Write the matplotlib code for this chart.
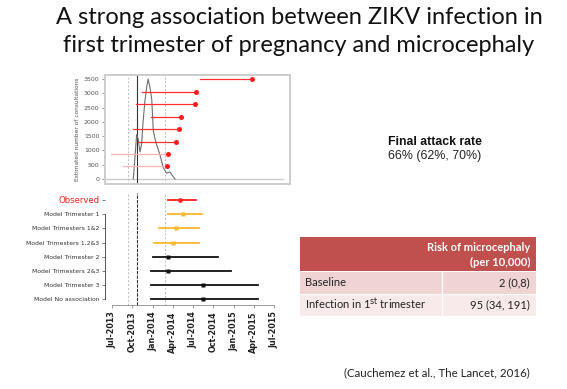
import matplotlib
matplotlib.use("Agg")
import matplotlib.pyplot as plt
import matplotlib.dates as mdates
from matplotlib.patches import Rectangle
import pandas as pd

W, H = 567, 389

# epidemic curve (estimated number of consultations)
curve_dates = ["2013-10-05", "2013-10-12", "2013-10-20", "2013-10-27",
               "2013-11-04", "2013-11-11", "2013-11-18", "2013-11-26", "2013-12-04",
               "2013-12-11", "2013-12-19", "2013-12-27", "2014-01-03", "2014-01-11",
               "2014-01-18", "2014-02-02", "2014-02-17", "2014-03-04", "2014-03-19",
               "2014-04-03", "2014-04-11"]
curve_vals = [0, 700, 1550, 1400, 950, 1200, 2000, 2700, 3200, 3500, 3200, 2800,
              1700, 1400, 1200, 850, 400, 200, 250, 80, 0]
baseline_span = ["2013-05-31", "2015-08-09"]

# pregnancy windows in the top panel
win_start = ["2014-08-01", "2013-11-11", "2013-10-16", "2013-12-23",
             "2013-10-02", "2013-10-27", "2013-06-26", "2013-08-21"]
win_end = ["2015-03-25", "2014-07-14", "2014-07-10", "2014-05-08",
           "2014-04-30", "2014-04-15", "2014-03-12", "2014-03-04"]
win_y = [3500, 3060, 2625, 2170, 1760, 1310, 875, 455]
win_light = [False, False, False, False, False, False, True, True]

# model comparison rows
row_labels = ["Observed", "Model Trimester 1", "Model Trimesters 1&2",
              "Model Trimesters 1,2&3", "Model Trimester 2", "Model Trimesters 2&3",
              "Model Trimester 3", "Model No association"]
row_lo = ["2014-03-12", "2014-03-12", "2014-01-29", "2014-01-07",
          "2013-12-31", "2013-12-23", "2013-12-23", "2013-12-23"]
row_mid = ["2014-05-03", "2014-05-18", "2014-04-14", "2014-04-03",
           "2014-03-12", "2014-03-12", "2014-08-16", "2014-08-16"]
row_hi = ["2014-07-14", "2014-08-11", "2014-07-29", "2014-07-29",
          "2014-10-23", "2014-12-18", "2015-04-21", "2015-04-21"]
row_colors = ["#ff2020", "#f9b82e", "#f9b82e", "#f9b82e",
              "#111111", "#111111", "#111111", "#111111"]

vline_grey = ["2013-09-13", "2014-02-25"]
vline_dark = "2013-10-23"

tick_dates = pd.date_range("2013-07-01", "2015-07-01", freq="3MS")

# page geometry (pixels)
x0 = pd.Timestamp("2013-07-01") + pd.Timedelta(days=(105 - 112) / 0.2219)
x1 = pd.Timestamp("2013-07-01") + pd.Timedelta(days=(290 - 112) / 0.2219)

fig = plt.figure(figsize=(W / 100, H / 100), dpi=100)
bg = fig.add_axes([0, 0, 1, 1])
bg.set_xlim(0, W)
bg.set_ylim(H, 0)
bg.axis("off")

title_font = "Lato"
bg.text(299, 17, "A strong association between ZIKV infection in", ha="center", va="center",
        fontsize=17, family=title_font, color="#111111")
bg.text(299, 45, "first trimester of pregnancy and microcephaly", ha="center", va="center",
        fontsize=17, family=title_font, color="#111111")

# top panel
ax1 = fig.add_axes([105 / W, 1 - 184 / H, 185 / W, 109 / H])
ax1.plot(pd.to_datetime(baseline_span), [0, 0], color="#cccccc", lw=1.0, zorder=1)
ax1.plot(pd.to_datetime(curve_dates), curve_vals, color="#6e6e6e", lw=0.8, zorder=2)
for d in vline_grey:
    ax1.axvline(pd.Timestamp(d), color="#bbbbbb", lw=0.7, ls=(0, (2, 2)), zorder=1)
ax1.axvline(pd.Timestamp(vline_dark), color="#333333", lw=0.8, zorder=1)
for s, e, y, light in zip(win_start, win_end, win_y, win_light):
    c = "#ffb3b3" if light else "#ff3030"
    ax1.plot([pd.Timestamp(s), pd.Timestamp(e)], [y, y], color=c, lw=0.9, zorder=3)
    ax1.plot(pd.Timestamp(e), y, "o", color="#ff1a1a", ms=3.6, mec="none", zorder=4)
ax1.set_xlim(x0, x1)
ax1.set_ylim(-175, 3640)
ax1.set_yticks(range(0, 3501, 500))
ax1.tick_params(axis="y", direction="out", length=2.5, width=0.6, color="#888888",
                labelsize=4.5, labelcolor="#555555", pad=1.5)
ax1.set_xticks([])
for sp in ax1.spines.values():
    sp.set_color("#cccccc")
    sp.set_linewidth(1.4)
ax1.set_ylabel("Estimated number of consultations", fontsize=4.2, color="#555555", labelpad=3)

# bottom panel
ax2 = fig.add_axes([105 / W, 1 - 305 / H, 185 / W, 112 / H])
for d in vline_grey:
    ax2.axvline(pd.Timestamp(d), color="#bbbbbb", lw=0.7, ls=(0, (2, 2)), zorder=1)
ax2.axvline(pd.Timestamp(vline_dark), color="#333333", lw=0.8, ls=(0, (3, 1)), zorder=1)
for i, (lo, mid, hi, c) in enumerate(zip(row_lo, row_mid, row_hi, row_colors)):
    ax2.plot([pd.Timestamp(lo), pd.Timestamp(hi)], [i, i], color=c, lw=1.3, zorder=3)
    ax2.plot(pd.Timestamp(mid), i, "s" if i else "o", color=c, ms=2.6 if i else 3.4,
             mec="none", zorder=4)
ax2.set_xlim(x0, x1)
ax2.set_ylim(7.4, -0.49)
ax2.set_yticks(range(len(row_labels)))
ax2.set_yticklabels(row_labels)
for i, lab in enumerate(ax2.get_yticklabels()):
    if i == 0:
        lab.set_color("#ff2020")
        lab.set_fontsize(6.1)
    else:
        lab.set_color("#333333")
        lab.set_fontsize(4.4)
ax2.tick_params(axis="y", direction="out", length=2.5, width=0.6, color="#666666", pad=1.5)
ax2.set_xticks(tick_dates)
ax2.xaxis.set_major_formatter(mdates.DateFormatter("%b-%Y"))
ax2.tick_params(axis="x", direction="out", length=2.5, width=0.6, color="#888888",
                labelsize=5.8, labelcolor="#222222", labelrotation=90, pad=2)
for lab in ax2.get_xticklabels():
    lab.set_fontweight("bold")
ax2.spines["top"].set_visible(False)
ax2.spines["right"].set_visible(False)
ax2.spines["left"].set_bounds(1, 7)
ax2.spines["left"].set_color("#555555")
ax2.spines["left"].set_linewidth(0.7)
ax2.spines["bottom"].set_bounds(mdates.date2num(tick_dates[0]), mdates.date2num(tick_dates[-1]))
ax2.spines["bottom"].set_color("#999999")
ax2.spines["bottom"].set_linewidth(0.7)
ax2.patch.set_alpha(0)

# final attack rate
bg.text(388, 142, "Final attack rate", ha="left", va="center", fontsize=8.8,
        fontweight="bold", family="Liberation Sans", color="#111111")
bg.text(388, 156, "66% (62%, 70%)", ha="left", va="center", fontsize=8.9,
        family="Liberation Sans", color="#222222")

# risk table
bg.add_patch(Rectangle((300, 237), 236, 34, color="#c0504d", lw=0))
bg.add_patch(Rectangle((300, 272), 236, 21.5, color="#efd4d3", lw=0))
bg.add_patch(Rectangle((300, 294.5), 236, 21, color="#f8eaea", lw=0))
bg.plot([441.5, 441.5], [272, 315.5], color="white", lw=1)
tf = "Lato"
bg.text(530, 247.5, "Risk of microcephaly", ha="right", va="center", fontsize=8,
        fontweight="bold", family=tf, color="white")
bg.text(530, 262, "(per 10,000)", ha="right", va="center", fontsize=8,
        fontweight="bold", family=tf, color="white")
bg.text(305, 283, "Baseline", ha="left", va="center", fontsize=8, family=tf, color="#222222")
bg.text(530, 283, "2 (0,8)", ha="right", va="center", fontsize=8, family=tf, color="#222222")
bg.text(305, 304.5, "Infection in 1$^{\\rm st}$ trimester", ha="left", va="center",
        fontsize=8, family=tf, color="#222222")
bg.text(530, 304.5, "95 (34, 191)", ha="right", va="center", fontsize=8, family=tf,
        color="#222222")

bg.text(530, 373, "(Cauchemez et al., The Lancet, 2016)", ha="right", va="center",
        fontsize=8.3, family=tf, color="#222222")

fig.savefig("out.png", dpi=100)
